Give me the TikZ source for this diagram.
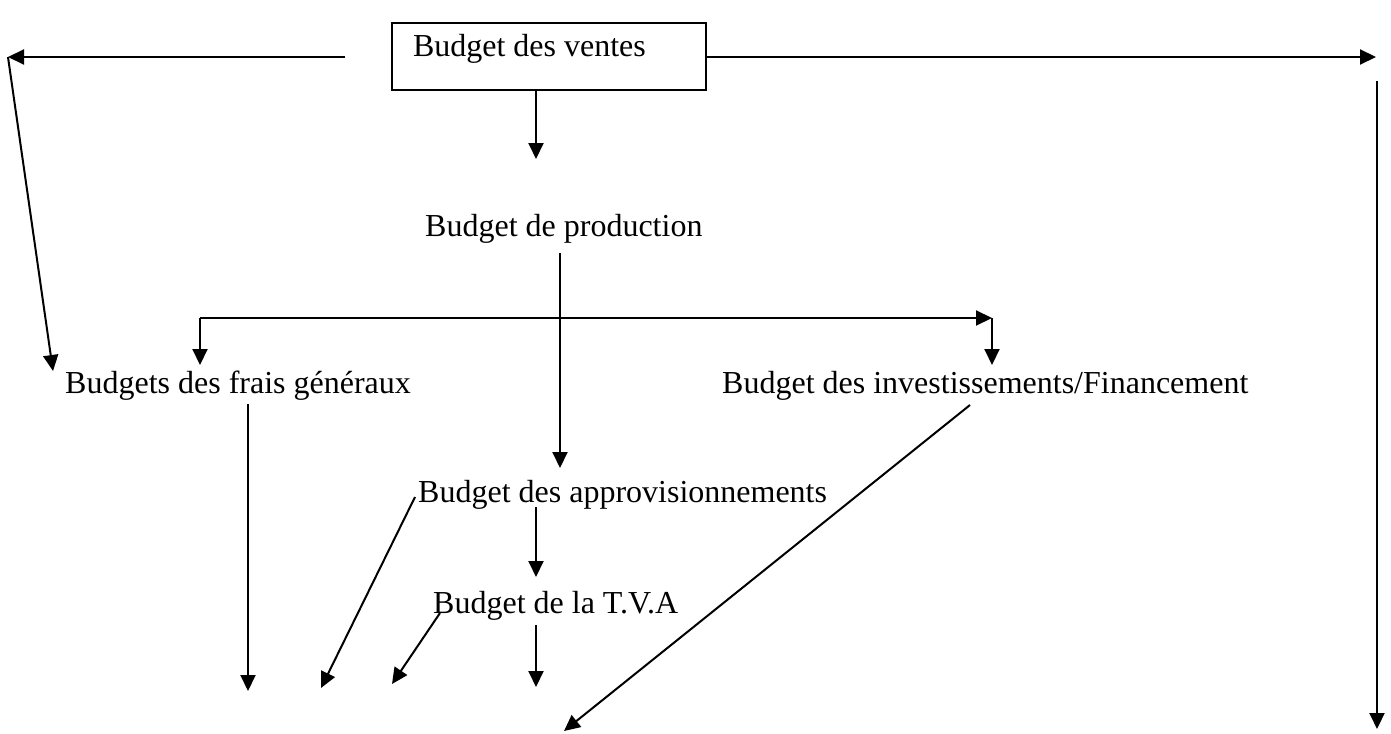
\documentclass[tikz,border=0pt]{standalone}
\usepackage{fontspec}
\setmainfont{Liberation Serif}
\usetikzlibrary{arrows.meta}
\begin{document}
\begin{tikzpicture}[x=1pt,y=-1pt,
  lbl/.style={anchor=base west,inner sep=0pt,font=\fontsize{32}{38}\selectfont},
  conn/.style={line width=2pt},
  arr/.style={conn,-{Triangle[length=16pt,width=15pt]}}]
\useasboundingbox (0,0) rectangle (1391,733);
% nodes
\node[draw,line width=2pt,anchor=north west,inner xsep=21pt,inner ysep=0pt,
      text height=34pt,text depth=33pt,
      font=\fontsize{32}{38}\selectfont] (ventes) at (391,22) {\makebox[272pt][l]{Budget des ventes}};
\node[lbl] (prod) at (425,236) {Budget de production};
\node[lbl] (frais) at (65,393) {Budgets des frais généraux};
\node[lbl] (invest) at (722,393) {Budget des investissements/Financement};
\node[lbl] (appro) at (418,502) {Budget des approvisionnements};
\node[lbl] (tva) at (433,613) {Budget de la T.V.A};
% free points
\coordinate (lstart) at (345,57);
\coordinate (lcorner) at (8,57);
\coordinate (fraisin) at (53,371);
\coordinate (rstart) at (705,57);
\coordinate (rend) at (1376,57);
\coordinate (rvtop) at (1377,81);
\coordinate (rvend) at (1377,729);
\coordinate (vdown0) at (536,90);
\coordinate (vdown1) at (536,159);
\coordinate (ptop) at (560,253);
\coordinate (pend) at (560,468);
\coordinate (hl) at (200,318);
\coordinate (hr) at (992,318);
\coordinate (hlend) at (200,365);
\coordinate (hrend) at (992,365);
\coordinate (ftop) at (248,404);
\coordinate (fend) at (248,691);
\coordinate (adstart) at (415,497);
\coordinate (adend) at (321,688);
\coordinate (avtop) at (536,507);
\coordinate (avend) at (536,577);
\coordinate (tdstart) at (440,613);
\coordinate (tdend) at (392,684);
\coordinate (tvtop) at (536,625);
\coordinate (tvend) at (536,687);
\coordinate (idstart) at (970,405);
\coordinate (idend) at (564,731);
% connectors
\draw[arr] (lstart) -- (lcorner);
\draw[arr] (lcorner) -- (fraisin);
\draw[arr] (rstart) -- (rend);
\draw[arr] (rvtop) -- (rvend);
\draw[arr] (vdown0) -- (vdown1);
\draw[arr] (ptop) -- (pend);
\draw[arr] (hl) -- (hr);
\draw[arr] (hl) -- (hlend);
\draw[arr] (hr) -- (hrend);
\draw[arr] (ftop) -- (fend);
\draw[arr] (adstart) -- (adend);
\draw[arr] (avtop) -- (avend);
\draw[arr] (tdstart) -- (tdend);
\draw[arr] (tvtop) -- (tvend);
\draw[arr] (idstart) -- (idend);
\end{tikzpicture}
\end{document}
